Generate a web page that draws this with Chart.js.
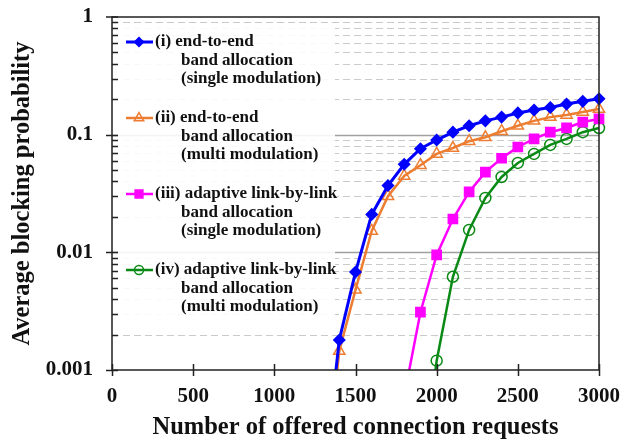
<!DOCTYPE html>
<html><head><meta charset="utf-8">
<script src="https://cdn.jsdelivr.net/npm/chart.js@4/dist/chart.umd.min.js"></script>
<style>html,body{margin:0;padding:0;background:#fff}</style>
</head><body>
<canvas id="c" width="625" height="447"></canvas>
<script>
'use strict';
// Average blocking probability vs offered connection requests — 4 allocation schemes.
// Points below 0.001 are only there so the line runs down to the axis (clipped).
const reqI = [1300, 1400, 1500, 1600, 1700, 1800, 1900, 2000, 2100, 2200, 2300, 2400, 2500, 2600, 2700, 2800, 2900, 3000];
const bpI = [0.0001, 0.0018, 0.0068, 0.021, 0.037, 0.056, 0.076, 0.090, 0.105, 0.119, 0.131, 0.141, 0.153, 0.162, 0.170, 0.182, 0.192, 0.202];
const reqII = [1300, 1400, 1500, 1600, 1700, 1800, 1900, 2000, 2100, 2200, 2300, 2400, 2500, 2600, 2700, 2800, 2900, 3000];
const bpII = [0.00007, 0.00145, 0.0048, 0.0152, 0.030, 0.0446, 0.055, 0.0686, 0.077, 0.088, 0.095, 0.107, 0.119, 0.131, 0.141, 0.147, 0.156, 0.165];
const reqIII = [1800, 1900, 2000, 2100, 2200, 2300, 2400, 2500, 2600, 2700, 2800, 2900, 3000];
const bpIII = [0.0006, 0.0031, 0.0095, 0.0192, 0.0326, 0.048, 0.063, 0.0786, 0.092, 0.105, 0.114, 0.128, 0.136];
const reqIV = [1900, 2000, 2100, 2200, 2300, 2400, 2500, 2600, 2700, 2800, 2900, 3000];
const bpIV = [0.0001, 0.0012, 0.0062, 0.0155, 0.029, 0.0437, 0.0575, 0.0686, 0.0818, 0.092, 0.105, 0.114];
const LEGEND = [
  ['(i) end-to-end', 'band allocation', '(single modulation)'],
  ['(ii) end-to-end', 'band allocation', '(multi modulation)'],
  ['(iii) adaptive link-by-link', 'band allocation', '(single modulation)'],
  ['(iv) adaptive link-by-link', 'band allocation', '(multi modulation)'],
];
const Y_TICKS = [0.001, 0.01, 0.1, 1];
const X_TICKS = [0, 500, 1000, 1500, 2000, 2500, 3000];
const SERIF = '"Liberation Serif", "Times New Roman", serif';

const pts = (xs, ys) => xs.map((x, i) => ({ x, y: ys[i] }));
const ser = (xs, ys, color, style, r, fill, bw) => ({
  data: pts(xs, ys), borderColor: color, borderWidth: bw, pointStyle: style, pointRadius: r,
  pointBackgroundColor: fill, pointBorderColor: color, pointBorderWidth: 1.5, tension: 0,
  clip: { left: 10, top: 10, right: 10, bottom: 0 },
});

// grille, cadre, ticks et légende dessinés à la main
const frame = {
  id: 'frame',
  beforeDatasetsDraw(chart) {
    const { ctx, chartArea: a, scales: { x, y } } = chart;
    ctx.save();
    for (let e = -3; e < 0; e++) for (let m = 1; m <= 9; m++) {
      if (e === -3 && m === 1) continue;
      const py = Math.round(y.getPixelForValue(m * Math.pow(10, e))) + 0.5;
      ctx.beginPath();
      if (m === 1) { ctx.strokeStyle = '#a0a0a0'; ctx.lineWidth = 1.5; ctx.setLineDash([]); }
      else { ctx.strokeStyle = '#cacaca'; ctx.lineWidth = 1; ctx.setLineDash([7, 4]); }
      ctx.moveTo(a.left, py); ctx.lineTo(a.right, py); ctx.stroke();
    }
    ctx.setLineDash([]);
    // légende
    ctx.fillStyle = 'rgba(255,255,255,0.88)';
    ctx.fillRect(118, 28, 217, 297);
    ctx.font = 'bold 17px ' + SERIF; ctx.textBaseline = 'middle'; ctx.textAlign = 'left';
    chart.data.datasets.forEach((ds, i) => {
      const cy = 42 + i * 76;
      ctx.strokeStyle = ds.borderColor; ctx.lineWidth = ds.borderWidth;
      ctx.beginPath(); ctx.moveTo(126, cy); ctx.lineTo(153, cy); ctx.stroke();
      ctx.fillStyle = ds.pointBackgroundColor; ctx.lineWidth = 1.5;
      Chart.helpers.drawPoint(ctx, { pointStyle: ds.pointStyle, radius: ds.pointRadius - 1, borderWidth: 1.5 }, 139, cy);
      ctx.fillStyle = '#111';
      LEGEND[i].forEach((t, k) => ctx.fillText(t, k ? 181 : 155, cy + k * 18.5));
    });
    ctx.restore();
  },
  afterDraw(chart) {
    const { ctx, chartArea: a, scales: { x, y } } = chart;
    ctx.save();
    ctx.strokeStyle = '#222'; ctx.lineWidth = 1.5;
    ctx.strokeRect(a.left, a.top, a.right - a.left, a.bottom - a.top);
    ctx.beginPath();
    X_TICKS.forEach(v => { const px = Math.round(x.getPixelForValue(v)) + 0.5; ctx.moveTo(px, a.bottom - 6); ctx.lineTo(px, a.bottom + 6); });
    for (let e = -3; e < 0; e++) for (let m = 1; m <= 9; m++) {
      const py = Math.round(y.getPixelForValue(m * Math.pow(10, e))) + 0.5;
      if (m === 1) { ctx.moveTo(a.left - 6, py); ctx.lineTo(a.left + 6, py); }
      else { ctx.moveTo(a.left, py); ctx.lineTo(a.left + 6, py); }
    }
    ctx.moveTo(a.left - 6, a.top); ctx.lineTo(a.left + 6, a.top);
    ctx.stroke();
    ctx.restore();
  },
};

const font = { family: SERIF, weight: 'bold', size: 21 };
const titleFont = { family: SERIF, weight: 'bold', size: 24.5 };
new Chart(document.getElementById('c'), {
  type: 'line',
  data: { datasets: [
    ser(reqI, bpI, '#0000ff', 'rectRot', 5.5, '#0000ff', 3),
    ser(reqII, bpII, '#ed7d31', 'triangle', 6.5, 'rgba(0,0,0,0)', 2.5),
    ser(reqIII, bpIII, '#ff00ff', 'rect', 6.5, '#ff00ff', 2.5),
    ser(reqIV, bpIV, '#0a8a14', 'circle', 5.5, 'rgba(0,0,0,0)', 2.5),
  ] },
  options: {
    responsive: false, animation: false, devicePixelRatio: 1,
    layout: { padding: { left: 0, top: 17, right: 26, bottom: 0 } },
    plugins: { legend: { display: false }, tooltip: { enabled: false } },
    scales: {
      x: {
        type: 'linear', min: 0, max: 3000,
        grid: { display: false, drawTicks: false }, border: { display: false },
        afterBuildTicks: s => { s.ticks = X_TICKS.map(value => ({ value })); },
        ticks: { font, color: '#111', padding: 14, maxRotation: 0, autoSkip: false, callback: v => String(v) },
        title: { display: true, text: 'Number of offered connection requests', font: titleFont, color: '#111', padding: { top: 0, bottom: 5 } },
        afterFit: s => { s.height = 77; s.paddingLeft = 0; s.paddingRight = 0; },
      },
      y: {
        type: 'logarithmic', min: 0.001, max: 1,
        grid: { display: false, drawTicks: false }, border: { display: false },
        afterBuildTicks: s => { s.ticks = Y_TICKS.map(value => ({ value })); },
        ticks: { font, color: '#111', padding: 19, autoSkip: false, callback: v => String(v) },
        title: { display: true, text: 'Average blocking probability', font: titleFont, color: '#111', padding: { top: 8, bottom: 0 } },
        afterFit: s => { s.width = 112; s.paddingTop = 0; s.paddingBottom = 0; },
      },
    },
  },
  plugins: [frame],
});
</script>
</body></html>
